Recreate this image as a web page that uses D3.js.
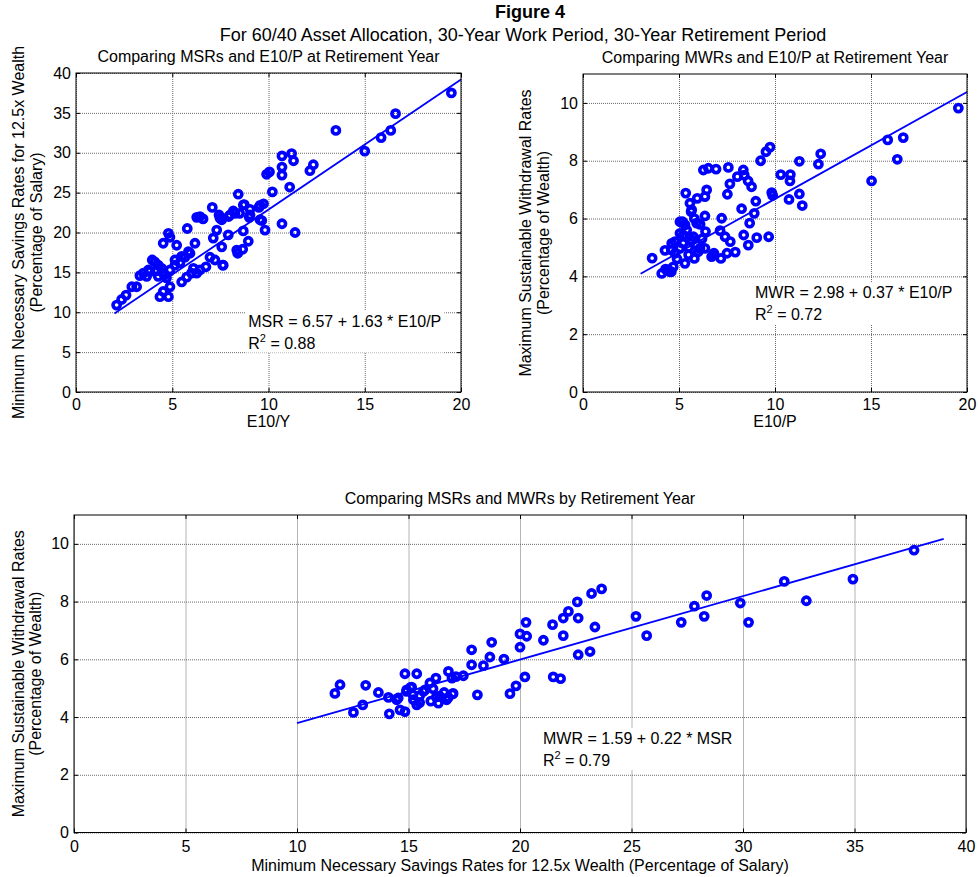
<!DOCTYPE html>
<html>
<head>
<meta charset="utf-8">
<script src="https://cdn.jsdelivr.net/npm/d3@7"></script>
<style>
  body { margin: 0; background: #fff; }
  svg { display: block; font-family: Arial, "Liberation Sans", Helvetica, sans-serif; }
  .grid line { stroke: #6a6a6a; stroke-dasharray: 1,1; }
  .grid path { display: none; }
  .ticks path { display: none; }
  .ticks line { stroke: #000; }
</style>
</head>
<body>
<div id="chart"></div>
<script>
// panel 1: MSR vs E10/P
const p1E10p = [19.5,16.6,16.35,15.85,15.0,13.5,12.33,12.15,11.2,11.3,10.7,10.7,10.7,10.05,9.9,10.2,11.1,10.7,11.38,9.82,
  8.43,9.74,9.5,9.65,9.04,9.0,8.74,8.5,8.17,7.93,7.57,7.43,7.08,6.44,6.6,5.78,7.31,7.13,7.91,8.69,
  8.95,7.57,8.35,8.4,8.66,7.62,7.22,6.96,6.75,6.44,6.27,6.1,6.18,5.92,5.66,5.4,5.14,4.88,4.8,4.88,
  4.53,5.23,3.96,4.1,3.5,3.67,3.84,3.32,4.27,4.53,4.7,4.2,5.49,5.75,6.0,4.88,4.53,4.36,4.8,3.15,
  2.9,2.6,2.37,2.11,4.45,4.62,5.49,5.84,6.27,7.48,8.0,8.26,9.56,9.56,8.69,9.04,7.65,5.14,3.76,4.28];
const p1Msr = [37.5,34.9,32.8,31.9,30.2,32.8,28.5,27.75,29.9,29.0,29.6,28.2,27.2,27.6,27.3,25.1,25.7,21.1,20.0,20.3,
  24.8,23.6,23.15,21.5,22.9,21.9,23.5,22.4,22.7,22.0,21.6,22.2,23.15,22.0,21.7,20.5,20.3,19.3,19.7,20.2,
  18.9,18.2,17.8,17.4,17.9,15.9,16.55,16.9,15.7,15.3,14.9,15.5,18.65,17.4,16.9,16.2,15.9,15.3,19.9,19.4,
  18.65,18.4,16.55,16.3,14.9,14.5,15.1,14.6,14.5,14.9,14.3,15.2,13.8,14.4,14.9,13.2,12.6,11.95,11.95,13.2,
  13.2,12.15,11.6,10.9,15.5,14.7,17.0,17.6,21.9,21.8,22.2,22.4,21.6,23.4,23.45,22.2,15.9,16.55,15.3,15.9];

// panel 2: MWR vs E10/P
const p2E10p = [19.55,15.87,16.68,16.37,15.03,12.38,12.26,11.27,10.3,10.8,10.78,11.27,10.73,11.42,9.83,9.88,9.25,9.53,9.74,8.35,
  8.4,7.57,8.04,8.6,8.78,7.65,7.52,6.93,6.53,6.27,6.44,6.35,5.95,5.35,5.57,5.63,6.35,7.22,8.26,9.0,
  8.92,8.68,7.14,7.4,7.67,8.37,8.61,9.05,9.67,7.93,7.5,7.18,6.7,6.82,6.35,6.38,6.09,5.8,5.31,4.7,
  4.53,4.1,4.3,3.6,4.27,4.62,4.8,5.05,5.19,5.4,5.75,5.92,5.66,5.22,4.6,5.05,4.79,5.22,5.31,5.05,
  5.66,6.0,6.79,4.44,4.6,5.5,5.9,6.2,6.1,4.9,5.5,5.8];
const p2Mwr = [9.82,8.72,8.8,8.05,7.3,8.24,7.88,7.98,7.52,7.52,7.3,6.85,6.66,6.45,6.9,6.8,8.0,8.31,8.47,7.68,
  7.5,7.77,7.45,7.3,7.1,7.2,6.84,7.71,7.74,7.68,6.99,6.76,6.7,6.88,6.53,6.24,6.09,6.01,6.34,6.6,
  6.18,5.84,5.58,5.37,5.2,5.43,5.08,5.34,5.37,4.84,4.8,4.62,4.68,4.8,4.97,5.55,4.97,4.62,4.45,4.33,
  4.16,4.1,4.25,4.63,4.9,5.14,4.8,5.49,5.89,5.6,5.37,5.84,5.26,5.14,4.91,4.97,5.2,5.43,5.78,5.89,
  6.3,4.85,4.74,4.22,4.16,5.0,5.1,5.3,5.8,4.6,4.75,6.0];

// panel 3: MWR vs MSR
const p3Msr = [11.7,11.93,12.53,12.95,13.08,13.65,14.1,14.14,14.54,14.62,14.84,14.84,15.37,14.91,15.14,15.22,15.37,15.5,15.74,15.96,
  16.23,16.1,16.34,16.4,16.6,16.78,16.79,16.95,17.0,17.13,17.46,17.83,17.83,18.09,18.36,18.65,18.73,19.28,19.55,19.82,
  20.0,20.0,20.22,20.27,20.3,21.05,21.49,21.82,21.46,21.94,21.94,22.17,22.61,22.61,22.57,23.14,23.36,23.21,23.66,25.2,
  25.68,27.23,27.82,28.26,28.37,29.88,30.25,31.85,32.84,34.93,37.67,14.47,14.92,15.2,16.25,16.71,16.98,15.67,15.1,15.5,16.0];
const p3Mwr = [4.82,5.12,4.16,4.42,5.1,4.85,4.68,4.11,4.66,4.25,4.19,5.5,5.5,4.89,5.04,4.6,4.42,4.74,4.94,5.18,
  5.35,4.98,4.48,4.72,4.85,4.68,5.58,5.35,4.82,5.4,5.43,6.33,5.81,4.77,5.78,6.08,6.59,6.01,4.81,5.08,
  6.42,6.88,5.39,7.28,6.8,6.66,5.39,5.33,7.2,7.43,6.82,7.66,6.16,7.43,7.99,6.27,7.12,8.28,8.44,7.49,
  6.82,7.28,7.84,7.49,8.21,7.95,7.28,8.7,8.03,8.78,9.78,4.6,4.94,4.77,4.7,4.6,4.8,4.89,5.03,4.5,4.55];

// fits: intercept, slope, x start, x end
const fit1 = [6.57, 1.63, 2.0, 20];
const fit2 = [2.98, 0.37, 3.0, 20];
const fit3 = [1.59, 0.22, 10, 39];

const ticks0to20 = [0, 5, 10, 15, 20];
const ticks0to40 = [0, 5, 10, 15, 20, 25, 30, 35, 40];
const ticks0to10 = [0, 2, 4, 6, 8, 10];

const W = 978, H = 877;
const svg = d3.select("#chart").append("svg").attr("width", W).attr("height", H);
svg.append("rect").attr("width", W).attr("height", H).attr("fill", "#fff");

svg.append("text").attr("x", 530).attr("y", 18).attr("text-anchor", "middle")
  .attr("font-size", 18).attr("font-weight", "bold").text("Figure 4");
svg.append("text").attr("x", 523).attr("y", 41).attr("text-anchor", "middle")
  .attr("font-size", 18).text("For 60/40 Asset Allocation, 30-Year Work Period, 30-Year Retirement Period");

function drawPanel(p) {
  const x = d3.scaleLinear().domain(p.xDomain).range([p.left, p.right]);
  const y = d3.scaleLinear().domain(p.yDomain).range([p.bottom, p.top]);
  const w = p.right - p.left, h = p.bottom - p.top;
  const g = svg.append("g");

  g.append("g").attr("class", "grid").attr("transform", "translate(0," + p.bottom + ")")
    .call(d3.axisBottom(x).tickValues(p.xTicks).tickSize(-h).tickFormat(""));
  g.append("g").attr("class", "grid").attr("transform", "translate(" + p.left + ",0)")
    .call(d3.axisLeft(y).tickValues(p.yTicks).tickSize(-w).tickFormat(""));

  // regression line
  const f = p.fit;
  g.append("line")
    .attr("x1", x(f[2])).attr("y1", y(f[0] + f[1] * f[2]))
    .attr("x2", x(f[3])).attr("y2", y(f[0] + f[1] * f[3]))
    .attr("stroke", "#0000ff").attr("stroke-width", 1.8);

  g.selectAll("circle.pt").data(d3.zip(p.xs, p.ys)).join("circle")
    .attr("class", "pt")
    .attr("cx", d => x(d[0])).attr("cy", d => y(d[1]))
    .attr("r", 3.6)
    .attr("fill", "none").attr("stroke", "#0000ff").attr("stroke-width", 3.6);

  // equation box
  const note = g.append("g");
  const bg = note.append("rect").attr("fill", "#fff");
  const tx = x(p.note[0]), ty = y(p.note[1]);
  note.append("text").attr("x", tx).attr("y", ty).attr("font-size", 16).text(p.eq);
  const r2 = note.append("text").attr("x", tx).attr("y", ty + 22).attr("font-size", 16);
  r2.append("tspan").text("R");
  r2.append("tspan").attr("font-size", 11).attr("dy", -7).text("2");
  r2.append("tspan").attr("dy", 7).text(" = " + p.r2);
  const bb = note.node().getBBox();
  bg.attr("x", bb.x - 3).attr("y", bb.y - 2).attr("width", bb.width + 6).attr("height", bb.height + 3);

  g.append("rect").attr("x", p.left).attr("y", p.top).attr("width", w).attr("height", h)
    .attr("fill", "none").attr("stroke", "#000").attr("stroke-width", 1);

  const axB = g.append("g").attr("class", "ticks").attr("transform", "translate(0," + p.bottom + ")")
    .call(d3.axisBottom(x).tickValues(p.xTicks).tickSize(-4).tickPadding(p.xPad));
  const axL = g.append("g").attr("class", "ticks").attr("transform", "translate(" + p.left + ",0)")
    .call(d3.axisLeft(y).tickValues(p.yTicks).tickSize(-4).tickPadding(5));
  g.append("g").attr("class", "ticks").attr("transform", "translate(0," + p.top + ")")
    .call(d3.axisTop(x).tickValues(p.xTicks).tickSize(-4).tickFormat(""));
  g.append("g").attr("class", "ticks").attr("transform", "translate(" + p.right + ",0)")
    .call(d3.axisRight(y).tickValues(p.yTicks).tickSize(-4).tickFormat(""));
  [axB, axL].forEach(a => a.selectAll("text").attr("font-size", 16).attr("font-family", null).attr("fill", "#000"));

  g.append("text").attr("x", (p.left + p.right) / 2).attr("y", p.top - 11)
    .attr("text-anchor", "middle").attr("font-size", 16).text(p.title);
  g.append("text").attr("x", (p.left + p.right) / 2).attr("y", p.bottom + p.xLabelDy)
    .attr("text-anchor", "middle").attr("font-size", 16).text(p.xLabel);
  p.yLabel.forEach((s, i) => {
    g.append("text")
      .attr("transform", "translate(" + p.yLabelX[i] + "," + (p.top + p.bottom) / 2 + ") rotate(-90)")
      .attr("text-anchor", "middle").attr("font-size", 16).text(s);
  });
}

drawPanel({
  left: 76, right: 461, top: 73, bottom: 392,
  xDomain: [0, 20], yDomain: [0, 40], xTicks: ticks0to20, yTicks: ticks0to40,
  xs: p1E10p, ys: p1Msr, fit: fit1,
  note: [8.95, 8.2], eq: "MSR = 6.57 + 1.63 * E10/P", r2: "0.88",
  title: "Comparing MSRs and E10/P at Retirement Year",
  xLabel: "E10/Y", xPad: 7, xLabelDy: 35,
  yLabel: ["Minimum Necessary Savings Rates for 12.5x Wealth", "(Percentage of Salary)"], yLabelX: [24, 42]
});

drawPanel({
  left: 583, right: 967, top: 74, bottom: 392,
  xDomain: [0, 20], yDomain: [0, 11], xTicks: ticks0to20, yTicks: ticks0to10,
  xs: p2E10p, ys: p2Mwr, fit: fit2,
  note: [8.96, 3.25], eq: "MWR = 2.98 + 0.37 * E10/P", r2: "0.72",
  title: "Comparing MWRs and E10/P at Retirement Year",
  xLabel: "E10/P", xPad: 7, xLabelDy: 35,
  yLabel: ["Maximum Sustainable Withdrawal Rates", "(Percentage of Wealth)"], yLabelX: [531, 549]
});

drawPanel({
  left: 74, right: 966, top: 515, bottom: 832.5,
  xDomain: [0, 40], yDomain: [0, 11], xTicks: ticks0to40, yTicks: ticks0to10,
  xs: p3Msr, ys: p3Mwr, fit: fit3,
  note: [21.03, 3.07], eq: "MWR = 1.59 + 0.22 * MSR", r2: "0.79",
  title: "Comparing MSRs and MWRs by Retirement Year",
  xLabel: "Minimum Necessary Savings Rates for 12.5x Wealth (Percentage of Salary)", xPad: 8, xLabelDy: 38,
  yLabel: ["Maximum Sustainable Withdrawal Rates", "(Percentage of Wealth)"], yLabelX: [24, 41]
});
</script>
</body>
</html>
